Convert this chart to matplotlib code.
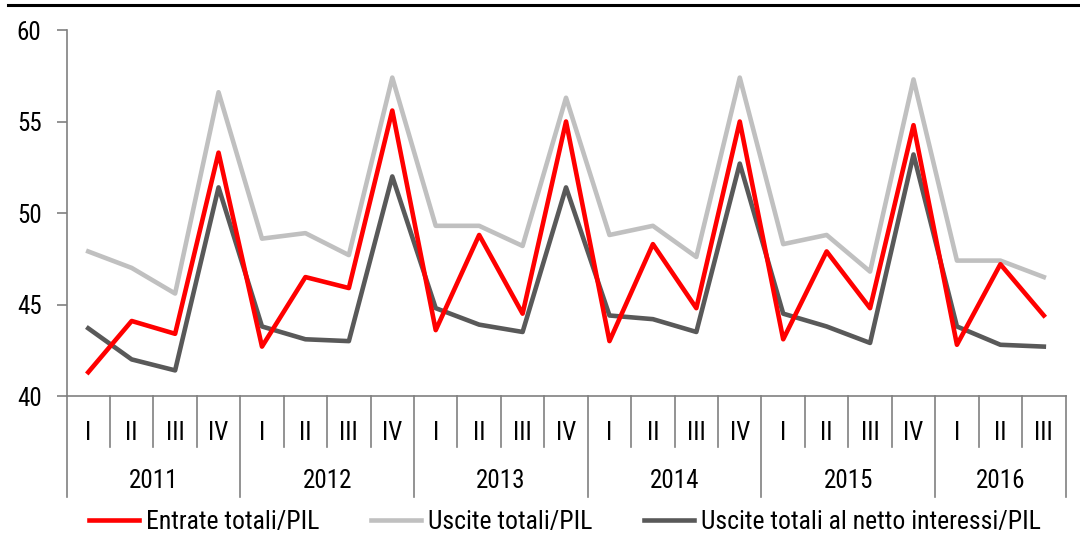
import matplotlib
matplotlib.use('Agg')
import matplotlib.pyplot as plt
from matplotlib.lines import Line2D
from matplotlib import font_manager

# --- dati ---
anni = ['2011', '2012', '2013', '2014', '2015', '2016']
trimestri = ['I', 'II', 'III', 'IV'] * 5 + ['I', 'II', 'III']

entrate = [41.3, 44.1, 43.4, 53.3, 42.7, 46.5, 45.9, 55.6, 43.6, 48.8, 44.5, 55.0,
           43.0, 48.3, 44.8, 55.0, 43.1, 47.9, 44.8, 54.8, 42.8, 47.2, 44.4]
uscite = [47.9, 47.0, 45.6, 56.6, 48.6, 48.9, 47.7, 57.4, 49.3, 49.3, 48.2, 56.3,
          48.8, 49.3, 47.6, 57.4, 48.3, 48.8, 46.8, 57.3, 47.4, 47.4, 46.5]
uscite_netto = [43.7, 42.0, 41.4, 51.4, 43.8, 43.1, 43.0, 52.0, 44.8, 43.9, 43.5, 51.4,
                44.4, 44.2, 43.5, 52.7, 44.5, 43.8, 42.9, 53.2, 43.8, 42.8, 42.7]

ROSSO = '#FF0000'
GRIGIO = '#C0C0C0'
SCURO = '#595959'
ASSE = '#808080'

# font stretto se disponibile, altrimenti Liberation Sans
nomi = {f.name for f in font_manager.fontManager.ttflist}
fam = [n for n in ['Liberation Sans Narrow', 'Roboto Condensed', 'Open Sans Condensed'] if n in nomi]
plt.rcParams['font.family'] = fam + ['Liberation Sans', 'DejaVu Sans']
stretto = len(fam) > 0
fs_x = 18 if stretto else 17
fs_leg = 18.5 if stretto else 16

fig = plt.figure(figsize=(10.8, 5.41), dpi=100)
ax = fig.add_axes([0.0616, 0.268, 0.925, 0.6765])

x = list(range(len(trimestri)))
ax.plot(x, uscite, color=GRIGIO, lw=3.3, label='Uscite totali/PIL', zorder=2)
ax.plot(x, uscite_netto, color=SCURO, lw=3.3, label='Uscite totali al netto interessi/PIL', zorder=3)
ax.plot(x, entrate, color=ROSSO, lw=3.3, label='Entrate totali/PIL', zorder=4)

ax.set_xlim(-0.5, len(trimestri) - 0.5)
ax.set_ylim(40, 60)
ax.set_yticks([40, 45, 50, 55, 60])
ax.tick_params(axis='y', direction='out', length=7, width=1.2, color=ASSE, labelsize=18, pad=11)
ax.set_xticks([])
for s in ['top', 'right']:
    ax.spines[s].set_visible(False)
ax.spines['left'].set_color(ASSE)
ax.spines['left'].set_linewidth(1.2)
ax.spines['bottom'].set_color(ASSE)
ax.spines['bottom'].set_linewidth(1.2)

# asse x a due livelli
tr = ax.get_xaxis_transform()
for i, q in enumerate(trimestri):
    ax.text(i, -0.101, q, transform=tr, ha='center', va='center', fontsize=fs_x)
for i in range(len(trimestri) + 1):
    bordo = (i % 4 == 0) or i == len(trimestri)
    y0 = -0.276 if bordo else -0.139
    ax.add_line(Line2D([i - 0.5, i - 0.5], [0, y0], transform=tr, color=ASSE,
                       lw=1.2, clip_on=False))
for k, a in enumerate(anni):
    inizio = k * 4
    fine = min(inizio + 4, len(trimestri))
    ax.text((inizio + fine - 1) / 2, -0.232, a, transform=tr, ha='center', va='center', fontsize=fs_x)

# linea nera in alto
fig.add_artist(Line2D([0.007, 1.0], [0.991, 0.991], transform=fig.transFigure,
                      color='black', lw=2.2))

h, l = ax.get_legend_handles_labels()
ordine = [2, 0, 1]
fig.legend([h[i] for i in ordine], [l[i] for i in ordine], loc='center',
           bbox_to_anchor=(0.523, 0.035), ncol=3, frameon=False, fontsize=fs_leg,
           handlelength=1.95, handletextpad=0.27, columnspacing=2.0)

fig.savefig('out.png', dpi=100)
